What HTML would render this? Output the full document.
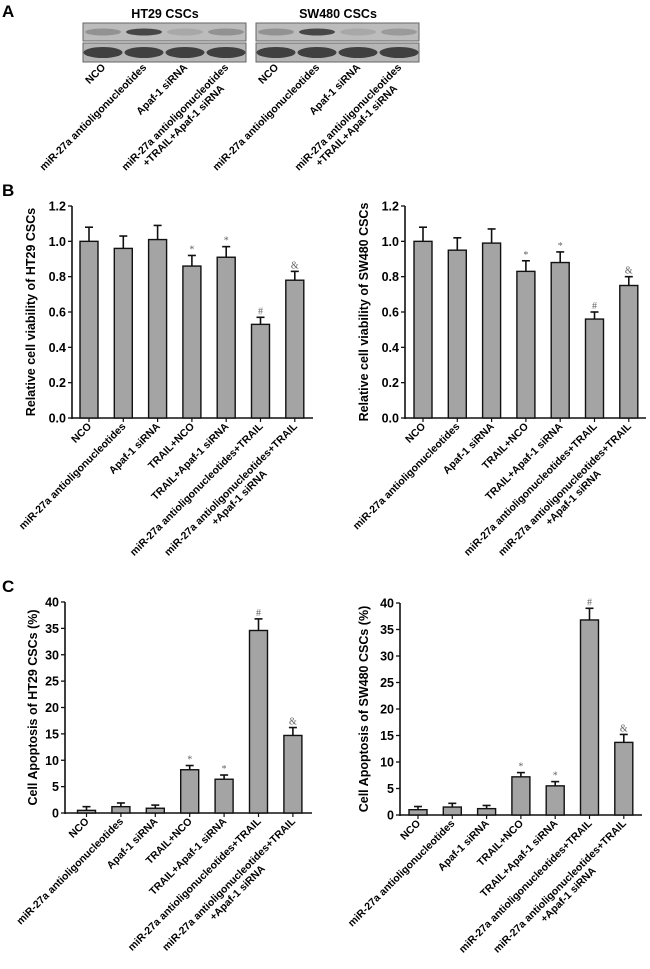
<!DOCTYPE html>
<html><head><meta charset="utf-8"><style>
body{margin:0;background:#fff;width:650px;height:964px;overflow:hidden}
svg{font-family:"Liberation Sans",Arial,sans-serif}
.tl{font-size:12.5px;font-weight:bold}
.cl{font-size:10.5px;font-weight:bold}
.at{font-size:12.5px;font-weight:bold}
.pl{font-size:17px;font-weight:bold}
</style></head><body>
<svg id="fig" width="650" height="964" viewBox="0 0 650 964">
<text class="pl" x="2" y="17">A</text>
<text class="pl" x="2" y="196">B</text>
<text class="pl" x="2" y="592">C</text>
<g id="blots"></g>
<g id="charts"></g>
</svg>
<script>
const NS="http://www.w3.org/2000/svg";
function mk(tag,attrs,parent,txt){const e=document.createElementNS(NS,tag);for(const k in attrs)e.setAttribute(k,attrs[k]);if(txt!==undefined)e.textContent=txt;parent.appendChild(e);return e;}

// Chart data
const categories=["NCO","miR-27a antioligonucleotides","Apaf-1 siRNA","TRAIL+NCO","TRAIL+Apaf-1 siRNA","miR-27a antioligonucleotides+TRAIL","miR-27a antioligonucleotides+TRAIL|+Apaf-1 siRNA"];
const markers=["","","","*","*","#","&"];
const viabHT29=[1.00,0.96,1.01,0.86,0.91,0.53,0.78];
const viabHT29Err=[0.08,0.07,0.08,0.06,0.06,0.04,0.05];
const viabSW480=[1.00,0.95,0.99,0.83,0.88,0.56,0.75];
const viabSW480Err=[0.08,0.07,0.08,0.06,0.06,0.04,0.05];
const apopHT29=[0.5,1.2,0.9,8.2,6.4,34.6,14.7];
const apopHT29Err=[0.7,0.7,0.6,0.8,0.8,2.2,1.5];
const apopSW480=[1.0,1.5,1.2,7.2,5.5,36.8,13.7];
const apopSW480Err=[0.6,0.7,0.6,0.8,0.8,2.2,1.5];
const viabTicks=["0.0","0.2","0.4","0.6","0.8","1.0","1.2"];
const apopTicks=["0","5","10","15","20","25","30","35","40"];
const blotLanes=["NCO","miR-27a antioligonucleotides","Apaf-1 siRNA","miR-27a antioligonucleotides|+TRAIL+Apaf-1 siRNA"];
const blotTopIntensity=[0.3,0.85,0.15,0.3];
const blotTopIntensity2=[0.3,0.85,0.15,0.25];

function rotLabel(g,text,lx,ly,cls,name){
  const lines=text.split('|');
  const t=mk('text',{x:lx,y:ly,'text-anchor':'end',class:cls,transform:`rotate(-45 ${lx} ${ly})`},g);
  
  
  const t1=mk('tspan',{x:lx,y:ly},t,lines[0]);
  if(lines.length>1){
    const L=t1.getComputedTextLength();
    mk('tspan',{x:lx-L/2,y:ly+12,'text-anchor':'middle'},t,lines[1]);
  }
}

const charts=document.getElementById('charts');
function chart(o){
  const g=mk('g',{},charts);
  
  
  const ymax=o.max;
  const Y=v=>o.y0-(v/ymax)*(o.y0-o.yTop);
  const X=i=>o.x0+o.first+i*o.step;
  mk('line',{x1:o.x0,y1:o.yTop,x2:o.x0,y2:o.y0+1,stroke:'#111','stroke-width':1.6},g);
  mk('line',{x1:o.x0,y1:o.y0,x2:o.xEnd,y2:o.y0,stroke:'#111','stroke-width':1.6},g);
  o.ticks.forEach(t=>{const v=parseFloat(t),y=Y(v);
    mk('line',{x1:o.x0-4,y1:y,x2:o.x0,y2:y,stroke:'#111','stroke-width':1.3},g);
    const tx=mk('text',{x:o.x0-6,y:y+4.5,'text-anchor':'end',class:'tl'},g,t);
    
    
  });
  const cy=(o.yTop+o.y0)/2;
  const at=mk('text',{x:o.titleX,y:cy,'text-anchor':'middle',class:'at',transform:`rotate(-90 ${o.titleX} ${cy})`},g,o.title);
  
  
  o.vals.forEach((v,i)=>{
    const cx=X(i),w=18,top=Y(v),et=Y(v+o.err[i]);
    mk('line',{x1:cx,y1:o.y0,x2:cx,y2:o.y0+4,stroke:'#111','stroke-width':1.2},g);
    mk('line',{x1:cx,y1:et,x2:cx,y2:top,stroke:'#111','stroke-width':1.6},g);
    mk('line',{x1:cx-4,y1:et,x2:cx+4,y2:et,stroke:'#111','stroke-width':1.6},g);
    const b=mk('rect',{x:cx-w/2,y:top,width:w,height:o.y0-top,fill:'#a4a4a4',stroke:'#111','stroke-width':1.4},g);
    
    
    if(markers[i]){const m=mk('text',{x:cx,y:et-3,'text-anchor':'middle','font-size':'10','fill':'#666','font-family':'Liberation Serif,serif'},g,markers[i]);
      
      }
    rotLabel(g,categories[i],cx+3,o.y0+9,'cl','x-category-label');
  });
}
chart({name:'viability-ht29-chart',vals:viabHT29,err:viabHT29Err,ticks:viabTicks,max:1.2,x0:72,xEnd:313,yTop:206,y0:418,first:17,step:34.3,titleX:35,title:'Relative cell viability of HT29 CSCs'});
chart({name:'viability-sw480-chart',vals:viabSW480,err:viabSW480Err,ticks:viabTicks,max:1.2,x0:405,xEnd:646,yTop:206,y0:418,first:18,step:34.3,titleX:368,title:'Relative cell viability of SW480 CSCs'});
chart({name:'apoptosis-ht29-chart',vals:apopHT29,err:apopHT29Err,ticks:apopTicks,max:40,x0:65,xEnd:312,yTop:602,y0:813,first:21.5,step:34.4,titleX:37,title:'Cell Apoptosis of HT29 CSCs (%)'});
chart({name:'apoptosis-sw480-chart',vals:apopSW480,err:apopSW480Err,ticks:apopTicks,max:40,x0:400,xEnd:642,yTop:603,y0:815,first:18,step:34.3,titleX:368,title:'Cell Apoptosis of SW480 CSCs (%)'});

const blots=document.getElementById('blots');
function blot(x,title,name,intens){
  const g=mk('g',{},blots);
  
  
  const tt=mk('text',{x:x+82,y:18,'text-anchor':'middle','font-size':'12.5','font-weight':'bold'},g,title);
  
  
  mk('rect',{x:x,y:23,width:163,height:18,fill:'#bcbcbc',stroke:'#666','stroke-width':1},g);
  mk('rect',{x:x,y:43,width:163,height:19,fill:'#b6b6b6',stroke:'#666','stroke-width':1},g);
  intens.forEach((v,i)=>{
    const cx=x+20+i*41;
    mk('ellipse',{cx:cx,cy:32,rx:18,ry:3.5,fill:'#333','fill-opacity':v},g);
    mk('ellipse',{cx:cx,cy:52.5,rx:19.5,ry:5.5,fill:'#3a3a3a','fill-opacity':0.95},g);
    rotLabel(g,blotLanes[i],cx+3,68,'cl','blot-lane-label');
  });
}
blot(83,'HT29 CSCs','blot-ht29',blotTopIntensity);
blot(256,'SW480 CSCs','blot-sw480',blotTopIntensity2);
</script>
</body></html>
